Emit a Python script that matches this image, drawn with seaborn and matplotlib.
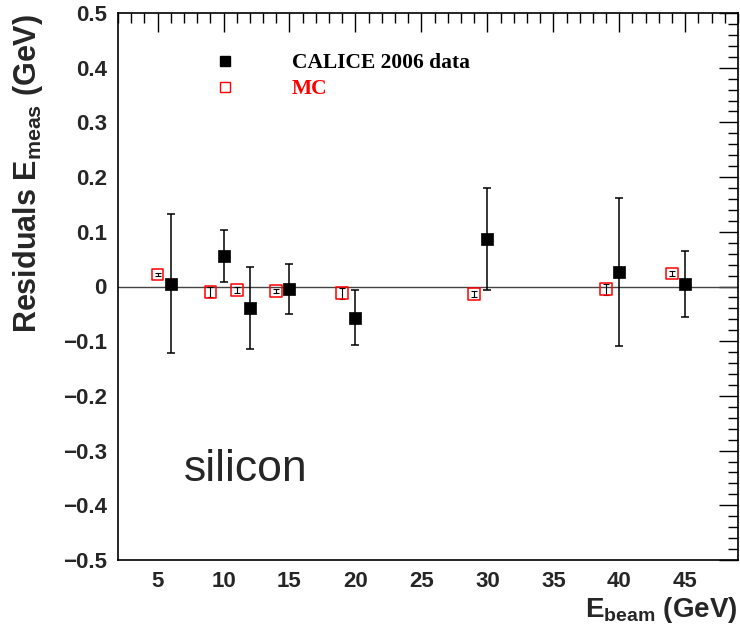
import matplotlib
matplotlib.use("Agg")
import matplotlib.pyplot as plt
from matplotlib.ticker import MultipleLocator
from matplotlib.lines import Line2D
import numpy as np
import pandas as pd
import seaborn as sns

# CALICE 2006 data: beam energy, residual, uncertainty (GeV)
data_energy = [6, 10, 12, 15, 20, 30, 40, 45]
data_residual = [0.005, 0.056, -0.040, -0.005, -0.057, 0.087, 0.027, 0.005]
data_error = [0.127, 0.048, 0.075, 0.046, 0.050, 0.093, 0.135, 0.060]

# Monte Carlo: beam energy, residual, uncertainty (GeV)
mc_energy = [5, 9, 11, 14, 19, 29, 39, 44]
mc_residual = [0.022, -0.010, -0.006, -0.008, -0.012, -0.014, -0.005, 0.024]
mc_error = [0.002, 0.010, 0.005, 0.003, 0.010, 0.005, 0.010, 0.005]

legend_labels = ["CALICE 2006 data", "MC"]

sns.set_theme(style="white")
plt.rcParams["font.family"] = ["Liberation Sans", "DejaVu Sans"]
plt.rcParams["mathtext.fontset"] = "custom"
plt.rcParams["mathtext.rm"] = "Liberation Sans"
plt.rcParams["mathtext.default"] = "regular"

fig = plt.figure(figsize=(7.4, 6.33), dpi=100)
ax = fig.add_axes([118 / 740, 1 - 560 / 633, (738 - 118) / 740, (560 - 13) / 633])

df_data = pd.DataFrame({"E": data_energy, "res": data_residual})
df_mc = pd.DataFrame({"E": mc_energy, "res": mc_residual})

ax.axhline(0, color="#444444", lw=1.0, zorder=1)

ax.errorbar(data_energy, data_residual, yerr=data_error, fmt="none",
            ecolor="black", elinewidth=1.1, capsize=3, capthick=1.1, zorder=2)
ax.errorbar(mc_energy, mc_residual, yerr=mc_error, fmt="none",
            ecolor="black", elinewidth=0.8, capsize=2, capthick=0.8, zorder=2)

sns.scatterplot(data=df_data, x="E", y="res", ax=ax, marker="s", s=85,
                color="black", edgecolor="black", linewidth=0.5, zorder=3, legend=False)
sns.scatterplot(data=df_mc, x="E", y="res", ax=ax, marker="s", s=70,
                facecolor="none", edgecolor="red", linewidth=1.1, zorder=3, legend=False)

ax.set_xlim(2, 49)
ax.set_ylim(-0.5, 0.5)
ax.xaxis.set_minor_locator(MultipleLocator(1))
ax.yaxis.set_minor_locator(MultipleLocator(0.02))
ax.set_xticks(np.arange(5, 50, 5))
ax.set_xticklabels([str(v) for v in range(5, 50, 5)])
yt = np.round(np.arange(-0.5, 0.51, 0.1), 1)
ax.set_yticks(yt)
ax.set_yticklabels([("0" if abs(v) < 1e-9 else f"{v:.1f}").replace("-", "\u2212") for v in yt])

ax.tick_params(which="both", direction="in", top=True, right=True, color="black", width=1)
ax.tick_params(which="major", length=14, labelsize=16, pad=8)
ax.tick_params(which="minor", length=7)
for lab in ax.get_xticklabels() + ax.get_yticklabels():
    lab.set_fontweight("bold")

for sp in ax.spines.values():
    sp.set_color("black")
    sp.set_linewidth(1.2)

ax.set_xlabel("")
ax.set_ylabel("")
fig.text(28 / 740, 1 - 174 / 633, r"Residuals E$_{meas}$ (GeV)", rotation=90,
         ha="center", va="center", fontsize=22, fontweight="bold")
fig.text(738 / 740, 1 - 595 / 633, r"E$_{beam}$ (GeV)", ha="right", va="top",
         fontsize=20, fontweight="bold")

handles = [
    Line2D([], [], ls="none", marker="s", markersize=7, color="black"),
    Line2D([], [], ls="none", marker="s", markersize=7, markerfacecolor="none",
           markeredgecolor="red", markeredgewidth=1),
]
ax.legend(handles, legend_labels, loc="upper left", bbox_to_anchor=(0.107, 0.962),
          frameon=False, handletextpad=2.1, labelspacing=0.28,
          prop={"family": "Liberation Serif", "weight": "bold", "size": 15.5},
          labelcolor=["black", "red"])

ax.text(0.106, 0.1444, "silicon", transform=ax.transAxes,
        fontsize=32, ha="left", va="baseline")

fig.savefig("out.png", dpi=100)
